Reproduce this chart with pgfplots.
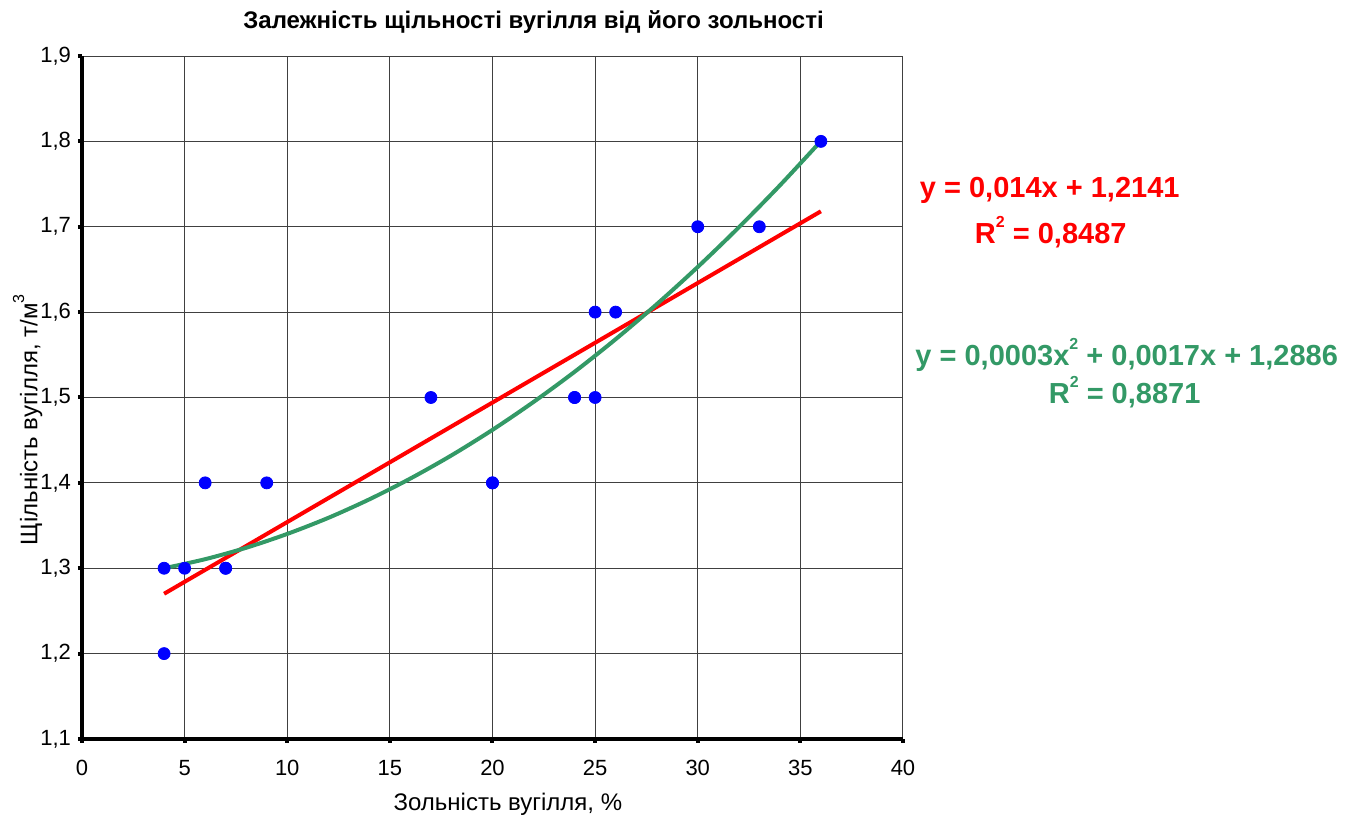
\documentclass[border=0pt]{standalone}
\usepackage{pgfplots}
\pgfplotsset{compat=1.18}
\usepackage{fontspec}
\setmainfont{Liberation Sans}

\definecolor{ptblue}{RGB}{0,0,255}
\definecolor{fitred}{RGB}{255,0,0}
\definecolor{fitgreen}{RGB}{51,153,102}

\newcommand{\sups}[1]{\raisebox{0.55em}{\fontsize{8}{8}\selectfont #1}}

\begin{document}
\begin{tikzpicture}
\begin{axis}[
    name=ax,
    scale only axis,
    width=410.5pt, height=341.5pt,
    xmin=0, xmax=40, ymin=1.1, ymax=1.9,
    xtick={0,5,...,40},
    ytick={1.1,1.2,...,1.9},
    axis lines*=left,
    axis line style={line width=2pt, black},
    grid=major,
    major grid style={black!75, line width=0.5pt},
    tick align=outside,
    major tick length=2pt,
    tick style={black, line width=2pt},
    tick label style={font=\fontsize{11}{12}\selectfont},
    /pgf/number format/assume math mode=true,
    /pgf/number format/use comma,
    yticklabel style={/pgf/number format/fixed, /pgf/number format/fixed zerofill, /pgf/number format/precision=1},
    xticklabel style={yshift=-5pt},
    clip=false,
]
% linear trend
\addplot[fitred, line width=2pt] coordinates {(4,1.2701) (36,1.7181)};
% quadratic trend
\addplot[fitgreen, line width=2pt, smooth] coordinates {
    (4,1.3000) (6,1.3106) (8,1.3240) (10,1.3402) (12,1.3590) (14,1.3807)
    (16,1.4051) (18,1.4322) (20,1.4621) (22,1.4948) (24,1.5301) (26,1.5683)
    (28,1.6092) (30,1.6529) (32,1.6993) (34,1.7484) (36,1.8003)
};
% measured points
\addplot[only marks, mark=*, mark size=3pt, ptblue, mark options={draw=ptblue, fill=ptblue}] table {
x y
4 1.3
4 1.2
5 1.3
6 1.4
7 1.3
7 1.3
9 1.4
17 1.5
20 1.4
20 1.4
24 1.5
24 1.5
25 1.6
25 1.5
26 1.6
30 1.7
33 1.7
36 1.8
};
\node[font=\bfseries\fontsize{12}{14}\selectfont] at (axis cs:22.0,1.940) {Залежність щільності вугілля від його зольності};
\node[font=\fontsize{12}{14}\selectfont] at (axis cs:20.75,1.024) {Зольність вугілля, \%};
\node[font=\fontsize{12}{14}\selectfont, rotate=90] at (axis cs:-2.65,1.474) {Щільність вугілля, т/м\sups{3}};
\node[fitred, font=\bfseries\fontsize{14.5}{16}\selectfont] at (axis cs:47.15,1.743) {y = 0,014x + 1,2141};
\node[fitred, font=\bfseries\fontsize{14.5}{16}\selectfont] at (axis cs:47.2,1.694) {R\sups{\bfseries 2} = 0,8487};
\node[fitgreen, font=\bfseries\fontsize{14.5}{16}\selectfont] at (axis cs:50.9,1.550) {y = 0,0003x\sups{\bfseries 2} + 0,0017x + 1,2886};
\node[fitgreen, font=\bfseries\fontsize{14.5}{16}\selectfont] at (axis cs:50.8,1.506) {R\sups{\bfseries 2} = 0,8871};
\end{axis}
\path[use as bounding box] ([xshift=-41pt,yshift=-39.5pt]ax.south west) rectangle ++(678.5pt,409pt);
\end{tikzpicture}
\end{document}
